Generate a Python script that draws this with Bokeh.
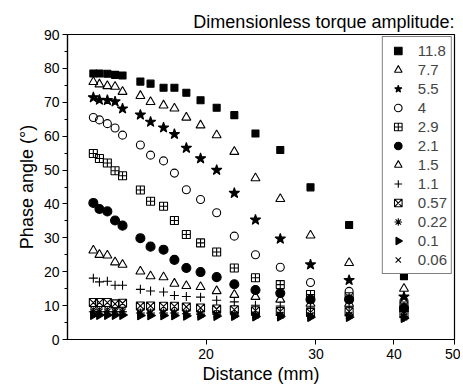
import numpy as np
from bokeh.plotting import figure
from bokeh.models import FixedTicker, PrintfTickFormatter, Range1d, CustomJS
from bokeh.embed import file_html
from bokeh.resources import INLINE

distance = [13.2, 13.5, 13.9, 14.3, 14.7, 15.7, 16.3, 17.1, 17.8, 18.6, 19.6, 20.8, 22.2, 24.0, 26.3, 29.4, 33.9, 41.5]

labels = ["11.8", "7.7", "5.5", "4", "2.9", "2.1", "1.5", "1.1", "0.57", "0.22", "0.1", "0.06"]

s_11_8 = [78.5, 78.5, 78.4, 78.1, 77.9, 76.1, 75.5, 74.3, 74.3, 72.8, 70.6, 68.4, 66.2, 60.8, 55.9, 44.9, 33.8, 18.7]
s_7_7 = [76.0, 75.3, 74.8, 74.6, 73.1, 71.9, 70.1, 69.1, 68.2, 65.5, 63.2, 60.3, 55.4, 47.6, 41.5, 30.7, 22.6, 15.0]
s_5_5 = [71.4, 70.7, 70.6, 70.2, 68.1, 66.3, 64.2, 62.5, 60.6, 56.5, 53.4, 50.0, 43.2, 35.3, 29.7, 22.1, 17.5, 12.6]
s_4 = [65.5, 64.8, 63.7, 62.4, 60.3, 57.4, 54.4, 52.7, 49.1, 44.2, 41.3, 37.4, 30.5, 25.0, 21.3, 16.8, 14.2, 11.4]
s_2_9 = [54.9, 53.4, 52.1, 49.8, 48.3, 44.1, 40.8, 39.3, 35.1, 31.0, 28.5, 25.8, 21.1, 18.2, 16.2, 13.3, 12.6, 9.9]
s_2_1 = [40.3, 38.5, 37.8, 35.1, 33.6, 29.9, 27.4, 26.5, 23.5, 21.1, 19.9, 18.4, 16.3, 14.6, 13.7, 11.8, 11.8, 9.3]
s_1_5 = [26.3, 25.0, 24.8, 22.8, 22.1, 20.1, 18.7, 18.4, 16.5, 15.8, 15.5, 14.3, 13.2, 12.6, 11.8, 10.6, 10.6, 9.0]
s_1_1 = [18.1, 17.0, 17.2, 16.0, 16.0, 14.8, 14.3, 14.0, 13.0, 12.7, 12.5, 11.6, 11.1, 10.1, 9.9, 9.3, 9.6, 8.3]
s_0_57 = [10.9, 10.9, 10.9, 10.5, 10.7, 9.9, 9.9, 9.8, 9.8, 9.6, 9.3, 9.0, 8.8, 8.5, 8.3, 8.0, 8.2, 7.6]
s_0_22 = [8.2, 8.2, 8.2, 8.2, 8.2, 7.8, 7.8, 7.8, 7.8, 7.6, 7.5, 7.5, 7.3, 7.2, 7.1, 7.0, 7.0, 6.6]
s_0_1 = [7.2, 7.2, 7.2, 7.2, 7.2, 7.1, 7.1, 7.1, 7.1, 7.0, 7.0, 6.9, 6.9, 6.8, 6.8, 6.6, 6.6, 6.3]
s_0_06 = [8.8, 8.8, 8.8, 8.8, 8.8, 8.0, 8.0, 8.0, 8.0, 7.8, 7.7, 7.6, 7.5, 7.4, 7.3, 7.2, 7.3, 7.0]

series = [s_11_8, s_7_7, s_5_5, s_4, s_2_9, s_2_1, s_1_5, s_1_1, s_0_57, s_0_22, s_0_1, s_0_06]

# marker, size, filled
styles = [
    ("square", 7, True),
    ("triangle", 9, False),
    ("star", 11, True),
    ("circle", 8, False),
    ("square_cross", 8, False),
    ("circle", 9, True),
    ("triangle", 9, False),
    ("cross", 9, False),
    ("square_x", 8, False),
    ("asterisk", 9, False),
    ("@tri_right", 9, True),
    ("x", 8, False),
]

tri_right = CustomJS(code="""
export default (args, obj, {ctx, i, r, visuals}) => {
  const R = r * 1.1
  ctx.beginPath()
  ctx.moveTo(R, 0)
  ctx.lineTo(-0.55 * R, -0.9 * R)
  ctx.lineTo(-0.55 * R, 0.9 * R)
  ctx.closePath()
  visuals.fill.apply(ctx, i)
  visuals.line.apply(ctx, i)
}
""")

FONT = "Liberation Sans"

p = figure(width=460, height=386, x_axis_type="log",
           output_backend="svg", toolbar_location=None,
           x_range=Range1d(12, 50), y_range=Range1d(0, 90),
           min_border_left=67, min_border_right=6, min_border_top=34, min_border_bottom=45)

for vals, lab, (mk, sz, filled) in zip(series, labels, styles):
    kw = {}
    if mk.startswith("@"):
        kw["defs"] = {mk: tri_right}
    p.scatter(distance, vals, marker=mk, size=sz,
              line_color="black", line_width=1.1,
              fill_color="black" if filled else None,
              legend_label=lab, **kw)

p.title.text = "Dimensionless torque amplitude:"
p.title.align = "right"
p.title.text_font = FONT
p.title.text_font_size = "18px"
p.title.text_font_style = "normal"
p.title.text_color = "black"
p.title.standoff = 5

p.xgrid.visible = False
p.ygrid.visible = False
p.outline_line_color = "black"
p.outline_line_width = 1.2
p.background_fill_color = "white"
p.border_fill_color = "white"

p.xaxis.ticker = FixedTicker(ticks=[20, 30, 40, 50], minor_ticks=[])
p.xaxis.formatter = PrintfTickFormatter(format="%d")
p.yaxis.ticker = FixedTicker(ticks=list(range(0, 91, 10)), minor_ticks=list(range(5, 90, 10)))

for ax in (p.xaxis, p.yaxis):
    ax.axis_line_color = "black"
    ax.axis_line_width = 1.2
    ax.major_tick_line_color = "black"
    ax.minor_tick_line_color = "black"
    ax.major_tick_out = 5
    ax.major_tick_in = 0
    ax.minor_tick_out = 3
    ax.minor_tick_in = 0
    ax.major_label_text_font = FONT
    ax.major_label_text_font_size = "14px"
    ax.major_label_text_color = "black"
    ax.axis_label_text_font = FONT
    ax.axis_label_text_font_size = "18px"
    ax.axis_label_text_font_style = "normal"
    ax.axis_label_text_color = "black"

p.xaxis.axis_label = "Distance (mm)"
p.yaxis.axis_label = "Phase angle (°)"
p.xaxis.axis_label_standoff = 2
p.xaxis.major_label_standoff = 4
p.yaxis.major_label_standoff = 3
p.yaxis.axis_label_standoff = 4

lg = p.legend[0]
lg.location = "top_right"
lg.margin = 2
lg.padding = 4
lg.spacing = 0
lg.glyph_height = 19
lg.label_height = 19
lg.glyph_width = 22
lg.label_standoff = 9
lg.label_text_font = FONT
lg.label_text_font_size = "15px"
lg.border_line_color = "black"
lg.border_line_width = 1.2
lg.background_fill_alpha = 1

open("out.html", "w").write(file_html(p, INLINE))
